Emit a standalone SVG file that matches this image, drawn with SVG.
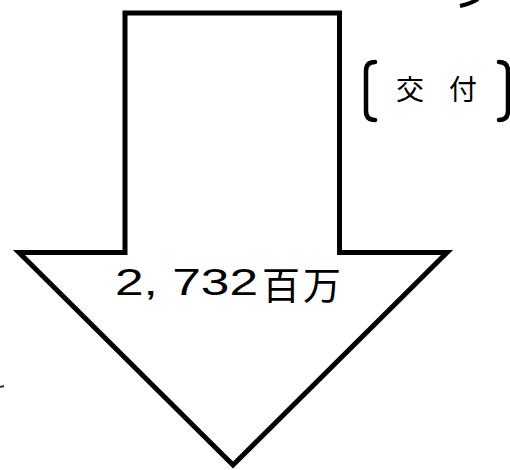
<svg xmlns="http://www.w3.org/2000/svg" width="510" height="470" viewBox="0 0 510 470">
  <style>
    .outline { fill: #ffffff; stroke: #000000; stroke-width: 5; stroke-linejoin: miter; }
    .brk { fill: none; stroke: #000000; stroke-width: 4.5; stroke-linecap: round; }
    .num { font-family: "Liberation Sans", Arial, sans-serif; font-size: 36px; fill: #000000; }
    .cjk { font-family: "Noto Sans CJK JP", "Noto Sans CJK SC", sans-serif; fill: #000000; }
  </style>
  <rect width="510" height="470" fill="#ffffff"/>
  <g id="fragments">
    <path d="M 460 6 Q 470 4 478 -1" fill="none" stroke="#000" stroke-width="4"/>
    <path d="M 0 387 L 4 386" fill="none" stroke="#333" stroke-width="2"/>
  </g>
  <g id="arrow">
    <polygon class="outline" points="125,13 339.5,13 339.5,252.5 447,252.5 233,465 19,252.5 125,252.5"/>
    <text class="num" x="115" y="295" textLength="143" lengthAdjust="spacingAndGlyphs">2, 732</text>
    <text class="cjk" x="262" y="299" font-size="38" textLength="79" lengthAdjust="spacing">百万</text>
  </g>
  <g id="label-kofu">
    <path class="brk" d="M 375 62 Q 366 62 366 71 L 366 111 Q 366 120 375 120"/>
    <path class="brk" d="M 499 62 Q 508 62 508 71 L 508 111 Q 508 120 499 120"/>
    <text class="cjk" font-size="28" y="100"><tspan x="396">交</tspan><tspan x="449">付</tspan></text>
  </g>
</svg>
